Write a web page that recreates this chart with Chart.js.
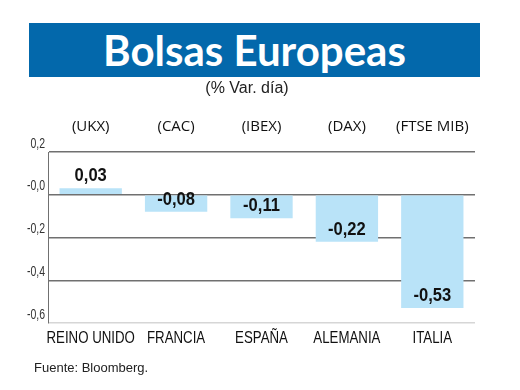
<!DOCTYPE html>
<html>
<head>
<meta charset="utf-8">
<script src="https://cdn.jsdelivr.net/npm/chart.js@4"></script>
<style>
  body { margin: 0; background: #fff; }
  #wrap { position: relative; width: 520px; height: 390px; }
  #title {
    position: absolute; left: 29px; top: 23px; width: 451px; height: 54px;
    background: #0368ab; color: #fff; text-align: center;
    font: bold 42px Lato, "Open Sans", sans-serif; line-height: 54px;
  }
  #sub {
    position: absolute; left: 0; top: 79px; width: 494px; text-align: center;
    font: 16px "Liberation Sans", Arial, sans-serif; color: #222;
  }
  #source {
    position: absolute; left: 34px; top: 360px;
    font: 13px "Liberation Sans", Arial, sans-serif; color: #222;
  }
  canvas { position: absolute; left: 0; top: 0; }
</style>
</head>
<body>
<div id="wrap">
  <canvas id="bar-chart" width="520" height="390"></canvas>
  <div id="title">Bolsas Europeas</div>
  <div id="sub">(% Var. día)</div>
  <div id="source">Fuente: Bloomberg.</div>
</div>
<script>
const paises = ['REINO UNIDO', 'FRANCIA', 'ESPAÑA', 'ALEMANIA', 'ITALIA'];
const indices = ['(UKX)', '(CAC)', '(IBEX)', '(DAX)', '(FTSE MIB)'];
const variacion = [0.03, -0.08, -0.11, -0.22, -0.53];
const tickValues = [0.2, 0, -0.2, -0.4, -0.6];
const tickLabels = ['0,2', '-0,0', '-0,2', '-0,4', '-0,6'];

// texto estrecho: no hay fuente condensada, se comprime en horizontal
const narrowText = (ctx, txt, x, y, sx) => {
  ctx.save();
  ctx.translate(x, y);
  ctx.scale(sx, 1);
  ctx.fillText(txt, 0, 0);
  ctx.restore();
};

const narrowLabels = {
  id: 'narrowLabels',
  afterDraw(chart) {
    const { ctx, scales } = chart;
    ctx.save();
    ctx.fillStyle = '#111';
    ctx.font = '17px "Liberation Sans", Arial, sans-serif';
    ctx.textAlign = 'center';
    ctx.textBaseline = 'top';
    paises.forEach((p, i) => {
      narrowText(ctx, p, scales.x.getPixelForTick(i), chart.chartArea.bottom + 7, 0.78);
    });
    ctx.fillStyle = '#333';
    ctx.font = '15px "Liberation Sans", Arial, sans-serif';
    ctx.textAlign = 'right';
    ctx.textBaseline = 'bottom';
    tickValues.forEach((v, i) => {
      narrowText(ctx, tickLabels[i], scales.y.left + scales.y.width - 3, scales.y.getPixelForValue(v) - 1, 0.7);
    });
    ctx.restore();
  }
};

// etiquetas de valor: encima si es positivo, dentro abajo si es negativo
const valueLabels = {
  id: 'valueLabels',
  afterDatasetsDraw(chart) {
    const { ctx } = chart;
    const meta = chart.getDatasetMeta(0);
    ctx.save();
    ctx.font = 'bold 18px "Liberation Sans", Arial, sans-serif';
    ctx.fillStyle = '#111';
    ctx.textAlign = 'center';
    ctx.textBaseline = 'bottom';
    meta.data.forEach((bar, i) => {
      const txt = variacion[i].toFixed(2).replace('.', ',');
      narrowText(ctx, txt, bar.x, bar.y - 3, 0.92);
    });
    ctx.restore();
  }
};

new Chart(document.getElementById('bar-chart'), {
  type: 'bar',
  data: {
    labels: paises,
    datasets: [{
      data: variacion,
      backgroundColor: '#b9e3f8',
      categoryPercentage: 0.73,
      barPercentage: 1
    }]
  },
  options: {
    responsive: false,
    animation: false,
    layout: { padding: { left: 0, right: 45, top: 100, bottom: 37 } },
    plugins: { legend: { display: false }, tooltip: { enabled: false } },
    scales: {
      x: {
        position: 'bottom',
        grid: { display: false },
        border: { display: false },
        ticks: { display: false },
        afterFit(s) { s.height = 30; }
      },
      x2: {
        position: 'top',
        type: 'category',
        labels: indices,
        grid: { display: false },
        border: { display: false },
        ticks: { color: '#111', font: { family: '"Open Sans", "Noto Sans", sans-serif', size: 15 }, padding: 8, maxRotation: 0, autoSkip: false },
        afterFit(s) { s.height = 52; }
      },
      y: {
        min: -0.6,
        max: 0.2,
        afterBuildTicks(s) { s.ticks = tickValues.map(v => ({ value: v })); },
        ticks: { display: false },
        grid: {
          drawTicks: false,
          lineWidth: 1.5,
          color: (c) => (c.tick && c.tick.value <= -0.59 ? '#d6d6d6' : '#707070')
        },
        border: { display: true, color: '#707070', width: 1 },
        afterFit(s) { s.width = 48; }
      }
    }
  },
  plugins: [valueLabels, narrowLabels]
});
</script>
</body>
</html>
